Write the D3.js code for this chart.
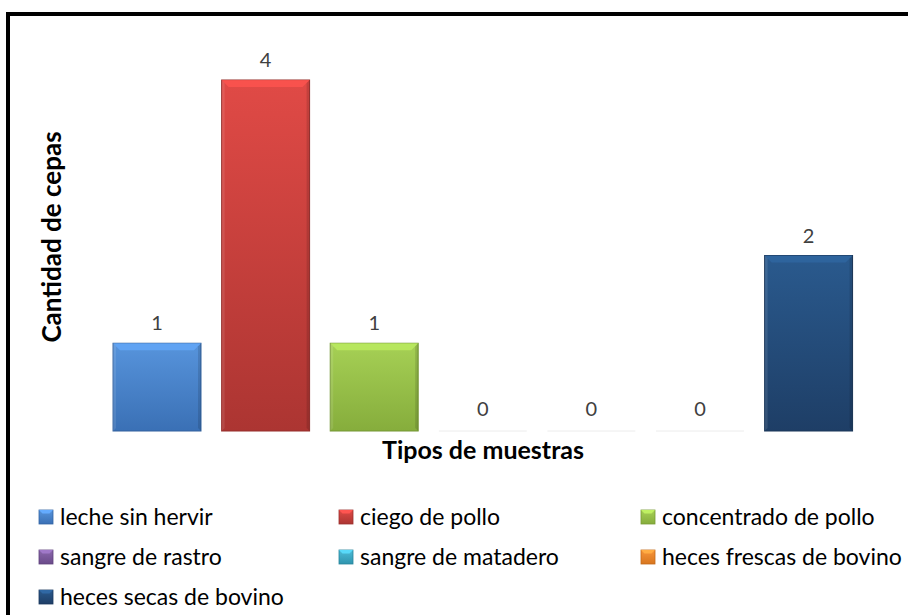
<!DOCTYPE html>
<html>
<head>
<meta charset="utf-8">
<script src="https://cdn.jsdelivr.net/npm/d3@7"></script>
<style>
  body { margin: 0; background: #fff; }
  text { font-family: Lato, "Open Sans", sans-serif; }
</style>
</head>
<body>
<script>
var width = 908;
var height = 615;

// data
var series = ["leche sin hervir", "ciego de pollo", "concentrado de pollo",
              "sangre de rastro", "sangre de matadero", "heces frescas de bovino",
              "heces secas de bovino"];
var values = [1, 4, 1, 0, 0, 0, 2];
var colorsTop = ["#5794dc", "#e04a46", "#a6d055", "#8b68ad", "#4cbcd8", "#f7953a", "#2a5a8e"];
var colorsBot = ["#3a70b5", "#ac3532", "#86ad3c", "#6a4a8a", "#2f94ae", "#d8761e", "#1e3e66"];

var svg = d3.select("body").append("svg")
    .attr("width", width)
    .attr("height", height);

var defs = svg.append("defs");
series.forEach(function(s, i) {
  var g = defs.append("linearGradient")
      .attr("id", "grad" + i)
      .attr("x1", 0).attr("y1", 0).attr("x2", 0).attr("y2", 1);
  g.append("stop").attr("offset", "0%").attr("stop-color", colorsTop[i]);
  g.append("stop").attr("offset", "100%").attr("stop-color", colorsBot[i]);
});

// frame (only top and left edges visible)
svg.append("rect")
    .attr("x", 8).attr("y", 14)
    .attr("width", 1000).attr("height", 1000)
    .attr("fill", "none")
    .attr("stroke", "#000")
    .attr("stroke-width", 4);

var x = d3.scaleBand()
    .domain(series)
    .range([92.4, 873.2])
    .paddingInner(0.19)
    .paddingOuter(0.19);

var y = d3.scaleLinear()
    .domain([0, 4])
    .range([431, 80]);

var bars = svg.append("g");

series.forEach(function(s, i) {
  var v = values[i];
  var x0 = x(s), bw = x.bandwidth();
  var y0 = y(v), y1 = y(0);
  if (v > 0) {
    bars.append("rect")
        .attr("x", x0).attr("y", y0)
        .attr("width", bw).attr("height", y1 - y0)
        .attr("fill", "url(#grad" + i + ")")
        .attr("stroke", d3.color(colorsBot[i]).darker(0.4))
        .attr("stroke-width", 1);
    // bevel highlight on top
    var b = 7;
    bars.append("path")
        .attr("d", "M" + x0 + "," + y0 + "L" + (x0 + bw) + "," + y0 +
                   "L" + (x0 + bw - b) + "," + (y0 + b) + "L" + (x0 + b) + "," + (y0 + b) + "Z")
        .attr("fill", d3.color(colorsTop[i]).brighter(0.35))
        .attr("opacity", 0.8);
    // side shading
    bars.append("path")
        .attr("d", "M" + (x0 + bw) + "," + y0 + "L" + (x0 + bw) + "," + y1 +
                   "L" + (x0 + bw - 3) + "," + (y1 - 3) + "L" + (x0 + bw - 3) + "," + (y0 + 3) + "Z")
        .attr("fill", "#000").attr("opacity", 0.12);
    bars.append("path")
        .attr("d", "M" + x0 + "," + y0 + "L" + x0 + "," + y1 +
                   "L" + (x0 + 3) + "," + (y1 - 3) + "L" + (x0 + 3) + "," + (y0 + 3) + "Z")
        .attr("fill", "#fff").attr("opacity", 0.1);
  } else {
    bars.append("line")
        .attr("x1", x0).attr("x2", x0 + bw)
        .attr("y1", y1).attr("y2", y1)
        .attr("stroke", "#ececec").attr("stroke-width", 1);
  }
  bars.append("text")
      .attr("x", x0 + bw / 2)
      .attr("y", y0 - (v > 0 ? 13 : 15))
      .attr("text-anchor", "middle")
      .attr("font-size", 20)
      .attr("fill", "#404040")
      .text(v);
});

// axis titles
svg.append("text")
    .attr("x", 483).attr("y", 459)
    .attr("text-anchor", "middle")
    .attr("font-size", 25)
    .attr("font-weight", "bold")
    .attr("fill", "#000")
    .text("Tipos de muestras");

svg.append("text")
    .attr("transform", "translate(61,237) rotate(-90)")
    .attr("text-anchor", "middle")
    .attr("font-size", 26)
    .attr("font-weight", "bold")
    .attr("fill", "#000")
    .text("Cantidad de cepas");

// legend
var legCols = [39, 339, 641];
var legRows = [517, 557, 597];
var legend = svg.append("g");
series.forEach(function(s, i) {
  var cx = legCols[i % 3], cy = legRows[Math.floor(i / 3)];
  var g = legend.append("g").attr("transform", "translate(" + cx + "," + cy + ")");
  g.append("rect")
      .attr("x", 0).attr("y", -7)
      .attr("width", 14).attr("height", 14)
      .attr("fill", "url(#grad" + i + ")")
      .attr("stroke", d3.color(colorsBot[i]).darker(0.3))
      .attr("stroke-width", 0.8);
  g.append("path")
      .attr("d", "M0,-7L14,-7L10.5,-3.5L3.5,-3.5Z")
      .attr("fill", d3.color(colorsTop[i]).brighter(0.4));
  g.append("text")
      .attr("x", 21).attr("y", 8)
      .attr("font-size", 23)
      .attr("fill", "#000")
      .text(s);
});
</script>
</body>
</html>
